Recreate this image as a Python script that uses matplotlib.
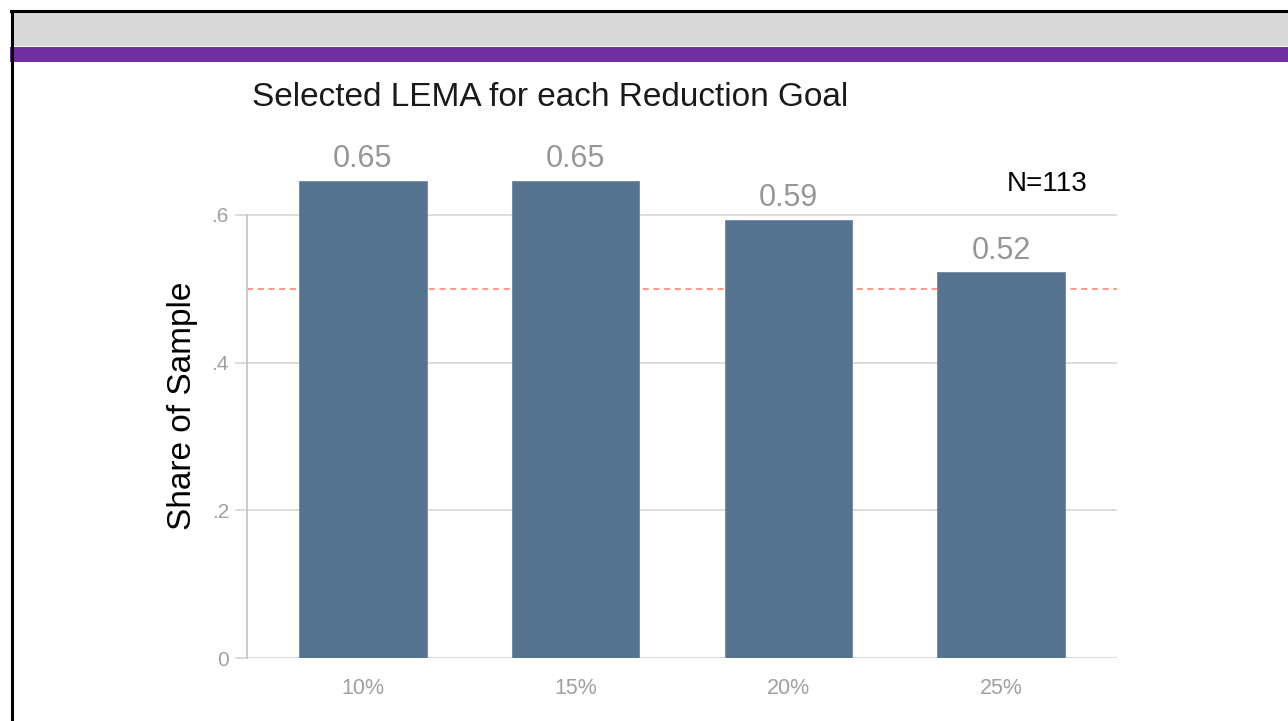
import numpy as np
import matplotlib
matplotlib.use("Agg")
import matplotlib.pyplot as plt
from matplotlib.patches import Rectangle
from matplotlib.lines import Line2D

plt.rcParams['font.family'] = ['Liberation Sans', 'DejaVu Sans']

# data
goals = ['10%', '15%', '20%', '25%']
share = [0.646, 0.646, 0.593, 0.522]
labels = ['0.65', '0.65', '0.59', '0.52']
ref_line = 0.5
yticks = [0, 0.2, 0.4, 0.6]
ytick_labels = ['0', '.2', '.4', '.6']
n_text = 'N=113'

W, H = 1288, 721
fig = plt.figure(figsize=(W / 100, H / 100), dpi=100)

# slide-like frame: grey header, purple band, black border
fig.patches.append(Rectangle((12 / W, 1 - 46 / H), 1, 35 / H, transform=fig.transFigure,
                             facecolor='#d9d9d9', edgecolor='none', zorder=0))
fig.patches.append(Rectangle((10 / W, 1 - 62 / H), 1, 15 / H, transform=fig.transFigure,
                             facecolor='#7030a0', edgecolor='none', zorder=1))
fig.lines.append(Line2D([11 / W, 1], [1 - 11 / H, 1 - 11 / H], transform=fig.transFigure,
                        color='black', lw=2.2, zorder=2))
fig.lines.append(Line2D([11.5 / W, 11.5 / W], [0, 1 - 11 / H], transform=fig.transFigure,
                        color='black', lw=2.2, zorder=2))

ax = fig.add_axes([247 / W, (H - 658) / H, 870 / W, 517 / H])
x = np.arange(len(goals))

ax.axhline(ref_line, color='#f4806a', lw=1.1, ls=(0, (4, 3)), zorder=1)
bars = ax.bar(x, share, width=0.6, color='#56738f', edgecolor='#6c87a1', linewidth=0.6, zorder=2)

for xi, v, lab in zip(x, share, labels):
    ax.annotate(lab, (xi, v), xytext=(0, 15.5), textcoords='offset points',
                ha='center', va='center', fontsize=22, color='#969696')

ax.set_xlim(-0.545, 3.545)
ax.set_ylim(0, 0.7)
ax.set_yticks(yticks)
ax.set_yticklabels(ytick_labels)
ax.set_xticks(x)
ax.set_xticklabels(goals)
ax.grid(axis='y', color='#d9d9d9', lw=1.3, zorder=0)
ax.set_axisbelow(True)

for s in ['top', 'right', 'bottom']:
    ax.spines[s].set_visible(False)
ax.spines['left'].set_color('#c8c8c8')
ax.spines['left'].set_linewidth(1.3)
ax.spines['left'].set_bounds(0, 0.6)

ax.tick_params(axis='y', length=9, width=1.3, color='#d9d9d9', labelsize=15,
               labelcolor='#a0a0a0', pad=4)
ax.tick_params(axis='x', length=0, labelsize=15.5, labelcolor='#a0a0a0', pad=14.5)

ax.text(0.92, 0.917, n_text, transform=ax.transAxes, ha='center', va='center',
        fontsize=20, color='black')

fig.text(252 / W, 1 - 97 / H, 'Selected LEMA for each Reduction Goal', ha='left', va='center',
         fontsize=24, color='#1a1a1a')
fig.text(183 / W, 1 - 406 / H, 'Share of Sample', rotation=90, ha='center', va='center',
         fontsize=24, color='black')

fig.savefig('out.png', dpi=100)
